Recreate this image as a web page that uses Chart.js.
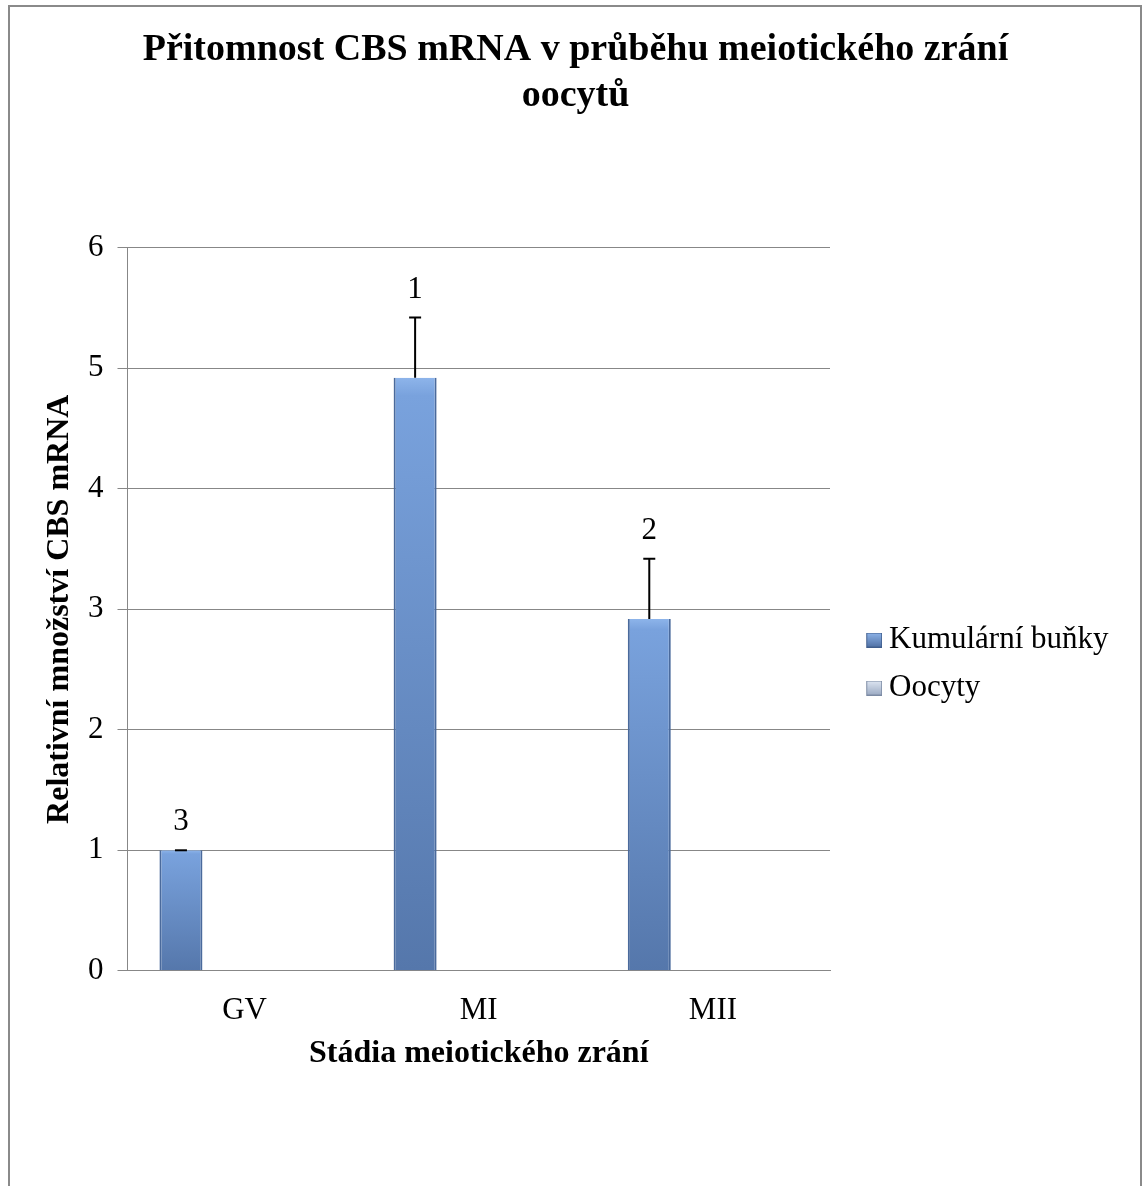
<!DOCTYPE html>
<html>
<head>
<meta charset="utf-8">
<script src="https://cdn.jsdelivr.net/npm/chart.js@4.4.1/dist/chart.umd.min.js"></script>
<style>
  html, body { margin: 0; padding: 0; background: #fff; overflow: hidden; }
  canvas { position: absolute; left: 0; top: 0; }
  #frame { position: absolute; left: 8px; top: 5px; width: 1130px; height: 1300px; border: 2px solid #8a8a8a; pointer-events: none; }
</style>
</head>
<body>
<canvas id="cbsChart" width="1146" height="1186"></canvas>
<div id="frame"></div>
<script>
const stages = ["GV", "MI", "MII"];
const kumulValues = [1.0, 4.92, 2.92];
const kumulErrors = [0, 0.5, 0.5];
const oocyteValues = [0, 0, 0];
const countLabels = ["3", "1", "2"];
const yTickValues = [0, 1, 2, 3, 4, 5, 6];

const serif = "'Liberation Serif', 'Times New Roman', serif";
const gridGrey = "#878787";

// per-bar vertical gradient, light at the top
function barFill(context) {
  const chart = context.chart;
  const y = chart.scales.y;
  if (!y || context.raw == null) return "#6a90cb";
  const top = y.getPixelForValue(context.raw);
  const base = y.getPixelForValue(0);
  if (!isFinite(top) || base - top < 1) return "#6a90cb";
  const g = chart.ctx.createLinearGradient(0, top, 0, base);
  g.addColorStop(0, "#8db4ea");
  g.addColorStop(0.03, "#79a2dd");
  g.addColorStop(1, "#5577ab");
  return g;
}

// legend keys: box sits in the right part of the image
function makeKey(top, bottom, edge) {
  const c = document.createElement("canvas");
  c.width = 44;
  c.height = 15;
  const k = c.getContext("2d");
  const g = k.createLinearGradient(0, 0, 0, 15);
  g.addColorStop(0, top);
  g.addColorStop(1, bottom);
  k.fillStyle = g;
  k.fillRect(28, 0, 16, 15);
  k.strokeStyle = edge;
  k.lineWidth = 1;
  k.strokeRect(28.5, 0.5, 15, 14);
  return c;
}
const legendKeys = [
  makeKey("#8fb5ea", "#4f70a4", "#3f5d8c"),
  makeKey("#dfe7f3", "#9aa9c2", "#7b8aa3"),
];

const errorBarPlugin = {
  id: "errorBars",
  afterDatasetsDraw(chart) {
    const { ctx } = chart;
    const y = chart.scales.y;
    const meta = chart.getDatasetMeta(0);
    ctx.save();
    ctx.strokeStyle = "#000";
    ctx.lineWidth = 2;
    ctx.fillStyle = "#000";
    ctx.font = "31px " + serif;
    ctx.textAlign = "center";
    ctx.textBaseline = "middle";
    meta.data.forEach((bar, i) => {
      const top = y.getPixelForValue(kumulValues[i] + kumulErrors[i]);
      ctx.beginPath();
      ctx.moveTo(bar.x, bar.y);
      ctx.lineTo(bar.x, top);
      ctx.moveTo(bar.x - 6, top);
      ctx.lineTo(bar.x + 6, top);
      ctx.stroke();
      ctx.fillText(countLabels[i], bar.x, top - 28);
    });
    ctx.restore();
  },
};

const ctx = document.getElementById("cbsChart").getContext("2d");

new Chart(ctx, {
  type: "bar",
  data: {
    labels: stages,
    datasets: [
      {
        label: "Kumulární buňky",
        data: kumulValues,
        backgroundColor: barFill,
        borderColor: "#4a6a9c",
        borderWidth: { left: 2, right: 2, top: 0, bottom: 0 },
        borderSkipped: false,
        categoryPercentage: 1.087,
        barPercentage: 0.338,
      },
      {
        label: "Oocyty",
        data: oocyteValues,
        backgroundColor: "#b9c6dc",
        borderWidth: 0,
        categoryPercentage: 1.087,
        barPercentage: 0.338,
      },
    ],
  },
  options: {
    responsive: false,
    animation: false,
    devicePixelRatio: 1,
    layout: { padding: { left: 35, right: 30, top: 0, bottom: 0 } },
    plugins: {
      tooltip: { enabled: false },
      title: {
        display: true,
        text: ["Přitomnost CBS mRNA v průběhu meiotického zrání", "oocytů"],
        color: "#000",
        font: { family: serif, size: 38, weight: "bold", lineHeight: 1.22 },
        padding: { top: 27, bottom: 128 },
      },
      legend: {
        position: "right",
        align: "center",
        maxWidth: 286,
        title: {
          display: true,
          text: "",
          padding: { top: 132, bottom: 0 },
          font: { size: 10, lineHeight: 1 },
        },
        labels: {
          usePointStyle: true,
          pointStyleWidth: 26.5,
          padding: 17,
          color: "#000",
          font: { family: serif, size: 31 },
          generateLabels(chart) {
            const items = Chart.defaults.plugins.legend.labels.generateLabels(chart);
            items.forEach((it, i) => { it.pointStyle = legendKeys[i]; });
            return items;
          },
        },
      },
    },
    scales: {
      x: {
        grid: { display: false },
        border: { display: true, color: gridGrey, width: 1 },
        ticks: { color: "#000", padding: 13, font: { family: serif, size: 31, lineHeight: 1.2 } },
        title: {
          display: true,
          text: "Stádia meiotického zrání",
          color: "#000",
          font: { family: serif, size: 32, weight: "bold", lineHeight: 1 },
          padding: { top: -4, bottom: 116 },
        },
      },
      y: {
        min: 0,
        max: 6,
        afterBuildTicks: (axis) => { axis.ticks = yTickValues.map((v) => ({ value: v })); },
        ticks: { color: "#000", padding: 14, font: { family: serif, size: 31 } },
        grid: { color: gridGrey, lineWidth: 1, tickLength: 10 },
        border: { display: true, color: gridGrey, width: 1 },
        title: {
          display: true,
          text: "Relativní množství CBS mRNA",
          color: "#000",
          font: { family: serif, size: 32, weight: "bold", lineHeight: 1 },
          padding: { top: 9, bottom: -2 },
        },
      },
    },
  },
  plugins: [errorBarPlugin],
});
</script>
</body>
</html>
